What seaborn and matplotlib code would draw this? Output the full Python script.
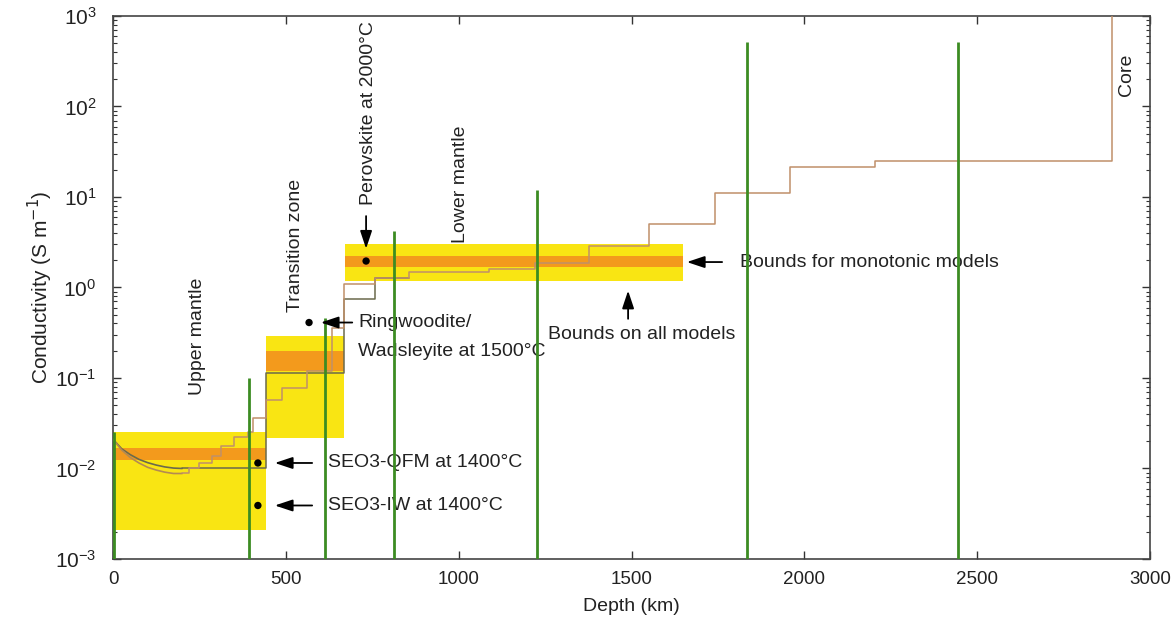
import numpy as np
import pandas as pd
import matplotlib
matplotlib.use("Agg")
import matplotlib.pyplot as plt
import seaborn as sns

# ---------------- data ----------------
# bounds on all models (yellow) and monotonic models (orange): x0, x1, low, high
band_x0 = [0, 443, 670]
band_x1 = [443, 667, 1650]
all_lo = [0.0021, 0.0215, 1.17]
all_hi = [0.025, 0.29, 3.0]
mono_lo = [0.0125, 0.12, 1.67]
mono_hi = [0.017, 0.20, 2.25]

# smooth upper-mantle parts of the two models
um_depth = [0, 25, 50, 75, 100, 125, 150, 175, 200]
um_dark = [0.021, 0.0165, 0.0142, 0.0126, 0.0116, 0.0109, 0.0104, 0.0101, 0.0100]
um_brown = [0.021, 0.016, 0.0132, 0.0115, 0.0103, 0.0096, 0.0091, 0.0088, 0.0088]

# staircase (layered) parts
dark_depth = [200, 443, 667, 757, 855]
dark_val = [0.0100, 0.114, 0.74, 1.26, 1.26]
brown_depth = [200, 220, 250, 285, 313, 351, 390, 405, 443, 490, 560, 632, 667,
               757, 855, 1087, 1220, 1377, 1551, 1742, 1959, 2203, 2890, 2890]
brown_val = [0.0088, 0.010, 0.0115, 0.0137, 0.0178, 0.0224, 0.025, 0.036, 0.057,
             0.078, 0.12, 0.36, 1.08, 1.26, 1.47, 1.6, 1.86, 2.86, 5.0, 11.1,
             21.5, 25.1, 1000, 1000]

# green vertical lines (depth, top)
green_depth = [3, 394, 612, 814, 1226, 1835, 2443]
green_top = [0.025, 0.10, 0.46, 4.2, 12.0, 520, 520]

# laboratory points
pt_names = ["SEO3-QFM at 1400°C", "SEO3-IW at 1400°C",
            "Ringwoodite/", "Perovskite at 2000°C"]
ring_line2 = "Wadsleyite at 1500°C"
pt_depth = [419, 419, 567, 732]
pt_val = [0.0115, 0.0039, 0.41, 1.96]

# ---------------- figure ----------------
sns.set_theme(style="ticks")
plt.rcParams["font.family"] = ["Liberation Sans", "DejaVu Sans"]

fig = plt.figure(figsize=(11.74, 6.27), dpi=100)
ax = fig.add_axes([0.0963, 0.1085, 0.8833, 0.866])

YEL = "#f9e513"
ORA = "#f39a1c"
GRN = "#3c8c22"

for x0, x1, lo, hi, mlo, mhi in zip(band_x0, band_x1, all_lo, all_hi, mono_lo, mono_hi):
    ax.fill_between([x0, x1], lo, hi, color=YEL, lw=0, zorder=1)
    ax.fill_between([x0, x1], mlo, mhi, color=ORA, lw=0, zorder=2)

df_um = pd.DataFrame({"depth": um_depth * 2,
                      "cond": um_dark + um_brown,
                      "model": ["dark"] * len(um_depth) + ["brown"] * len(um_depth)})
sns.lineplot(data=df_um, x="depth", y="cond", hue="model",
             palette={"dark": "#6b6a4c", "brown": "#b48a52"},
             estimator=None, sort=False, legend=False, lw=1.2, ax=ax, zorder=4)

sns.lineplot(x=dark_depth, y=dark_val, drawstyle="steps-post", color="#6b6a4c",
             estimator=None, sort=False, lw=1.1, ax=ax, zorder=4)
sns.lineplot(x=brown_depth, y=brown_val, drawstyle="steps-post", color="#c0906a",
             estimator=None, sort=False, lw=1.1, ax=ax, zorder=5)

ax.vlines(green_depth, 1e-3, green_top, color=GRN, lw=2.0, zorder=6)

sns.scatterplot(x=pt_depth, y=pt_val, color="black", s=28, ax=ax, zorder=8,
                edgecolor="none")

ax.set_yscale("log")
ax.set_xlim(0, 3000)
ax.set_ylim(1e-3, 1e3)
ax.set_xticks([0, 500, 1000, 1500, 2000, 2500, 3000])
ax.set_yticks([1e-3, 1e-2, 1e-1, 1e0, 1e1, 1e2, 1e3])
ax.tick_params(which="both", direction="in", top=True, right=True, colors="#333333")
ax.tick_params(which="major", length=6, width=1.0, labelcolor="#222222")
ax.tick_params(axis="x", which="major", labelsize=13.5, pad=9)
ax.tick_params(axis="y", which="major", labelsize=15, pad=12)
ax.tick_params(which="minor", length=3, width=0.8)
for s in ax.spines.values():
    s.set_color("#444444")
    s.set_linewidth(1.2)

ax.set_xlabel("Depth (km)", fontsize=14, color="#222222", labelpad=7)
ax.set_ylabel("Conductivity (S m$^{-1}$)", fontsize=15, color="#222222", labelpad=0)

fs = 14
tc = "#222222"
ax.text(243, 0.065, "Upper mantle", rotation=90, ha="center", va="bottom", fontsize=fs, color=tc)
ax.text(529, 0.54, "Transition zone", rotation=90, ha="center", va="bottom", fontsize=fs, color=tc)
ax.text(1004, 3.1, "Lower mantle", rotation=90, ha="center", va="bottom", fontsize=fs, color=tc)
ax.text(2933, 224, "Core", rotation=90, ha="center", va="center", fontsize=fs, color=tc)

arr = dict(arrowstyle="-|>,head_length=0.9,head_width=0.3", color="black", lw=1.3)
# SEO3 points
ax.annotate("", xy=(460, pt_val[0]), xytext=(584, pt_val[0]), arrowprops=arr, zorder=9)
ax.text(622, pt_val[0], pt_names[0], ha="left", va="center", fontsize=fs, color=tc)
ax.annotate("", xy=(460, pt_val[1]), xytext=(584, pt_val[1]), arrowprops=arr, zorder=9)
ax.text(622, pt_val[1], pt_names[1], ha="left", va="center", fontsize=fs, color=tc)
# Ringwoodite
ax.annotate("", xy=(593, pt_val[2]), xytext=(700, pt_val[2]), arrowprops=arr, zorder=9)
ax.text(709, 0.41, pt_names[2], ha="left", va="center", fontsize=fs, color=tc)
ax.text(709, 0.194, ring_line2, ha="left", va="center", fontsize=fs, color=tc)
# Perovskite
ax.annotate("", xy=(pt_depth[3], 2.5), xytext=(pt_depth[3], 6.6), arrowprops=arr, zorder=9)
ax.text(738, 8.2, pt_names[3], rotation=90, ha="center", va="bottom", fontsize=fs, color=tc)
# bounds
ax.annotate("", xy=(1652, 1.91), xytext=(1770, 1.91), arrowprops=arr, zorder=9)
ax.text(1814, 1.91, "Bounds for monotonic models", ha="left", va="center", fontsize=fs, color=tc)
ax.annotate("", xy=(1490, 0.99), xytext=(1490, 0.42), arrowprops=arr, zorder=9)
ax.text(1258, 0.306, "Bounds on all models", ha="left", va="center", fontsize=fs, color=tc)

fig.savefig("out.png", dpi=100)
